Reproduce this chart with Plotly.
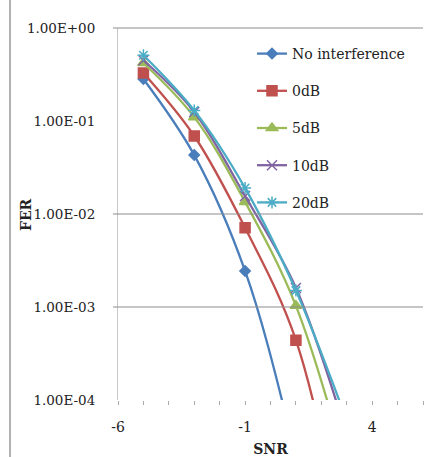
import plotly.graph_objects as go

snr = [-5, -3, -1, 1, 3]
no_interf = [0.283, 0.043, 0.00244, 2.5e-5, 1e-7]
db0 = [0.328, 0.069, 0.0071, 4.4e-4, 2e-6]
db5 = [0.42, 0.110, 0.0135, 1.03e-3, 1.8e-5]
db10 = [0.45, 0.125, 0.0156, 1.6e-3, 4.2e-5]
db20 = [0.51, 0.130, 0.019, 1.5e-3, 6e-5]

series_names = ["No interference", "0dB", "5dB", "10dB", "20dB"]
series_vals = [no_interf, db0, db5, db10, db20]
colors = ["#4A7EBB", "#C0504D", "#9BBB59", "#8064A2", "#4BACC6"]
symbols = ["diamond", "square", "triangle-up", "x-thin-open", "asterisk-open"]
sizes = [8, 10, 10, 10, 10]

ytick_vals = [1, 0.1, 0.01, 0.001, 0.0001]
ytick_text = ["1.00E+00", "1.00E-01", "1.00E-02", "1.00E-03", "1.00E-04"]
xtick_vals = [-6, -1, 4]
xtick_text = ["-6", "-1", "4"]

FONT = "DejaVu Serif"

fig = go.Figure()
for i, (name, vals) in enumerate(zip(series_names, series_vals)):
    fig.add_trace(go.Scatter(
        x=snr, y=vals, name=name, mode="lines+markers",
        line=dict(color=colors[i], width=2.3, shape="spline", smoothing=1),
        marker=dict(symbol=symbols[i], size=sizes[i], color=colors[i],
                    line=dict(color=colors[i], width=1.5)),
        legendgroup=name,
    ))

W, H = 428, 457
L, R, T, B = 118, 5, 28, 57
pw = W - L - R
ph = H - T - B

shapes = []
# horizontal grid lines (present in reference at 1e0, 1e-2, 1e-3)
for yp in [1.0, 0.5, 0.25]:
    shapes.append(dict(type="line", xref="paper", yref="paper",
                       x0=-5 / pw, x1=1, y0=yp, y1=yp,
                       line=dict(color="#8c8c8c", width=1)))
# left border of chart area
shapes.append(dict(type="line", xref="paper", yref="paper",
                   x0=(10 - L) / pw, x1=(10 - L) / pw,
                   y0=-(H - T - ph) / ph, y1=(ph + T) / ph,
                   line=dict(color="#999999", width=1.5)))

fig.update_layout(
    width=W, height=H,
    margin=dict(l=L, r=R, t=T, b=B, autoexpand=False),
    paper_bgcolor="white", plot_bgcolor="white",
    font=dict(family=FONT, size=14, color="#222222"),
    showlegend=True,
    legend=dict(x=(252 - L) / pw, y=(ph - (38 - T)) / ph, xanchor="left", yanchor="top",
                bgcolor="rgba(255,255,255,0)", borderwidth=0,
                font=dict(family=FONT, size=14, color="#222222"),
                traceorder="grouped", tracegroupgap=16, itemwidth=30),
    shapes=shapes,
    annotations=[dict(text="<b>FER</b>", xref="paper", yref="paper",
                      x=(26 - L) / pw, y=0.5, textangle=-90, showarrow=False,
                      xanchor="center", yanchor="middle",
                      font=dict(family=FONT, size=14, color="#222222"))],
    xaxis=dict(range=[-6, 6], tickvals=xtick_vals, ticktext=xtick_text,
               showgrid=False, zeroline=False, showline=False, automargin=False,
               ticks="outside", ticklen=4, tickcolor="#aaaaaa", ticklabelstandoff=10,
               minor=dict(dtick=1, ticks="outside", ticklen=4, tickcolor="#aaaaaa", showgrid=False),
               title=dict(text="<b>SNR</b>", standoff=15, font=dict(family=FONT, size=14)),
               tickfont=dict(family=FONT, size=14)),
    yaxis=dict(type="log", range=[-4, 0], tickvals=ytick_vals, ticktext=ytick_text,
               showgrid=False, zeroline=False, showline=True, linecolor="#c8c8c8", linewidth=1,
               ticks="", ticklabelstandoff=19, automargin=False,
               tickfont=dict(family=FONT, size=13.5)),
)

fig.write_html("out.html", post_script="document.body.style.margin='0';",
               config={"displayModeBar": False})
